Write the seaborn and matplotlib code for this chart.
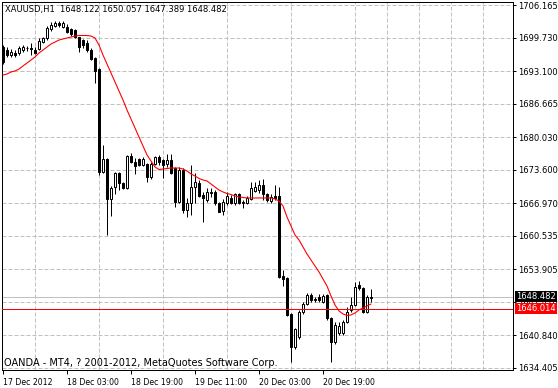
import numpy as np
import pandas as pd
import matplotlib
matplotlib.use("Agg")
import matplotlib.pyplot as plt
import seaborn as sns
from matplotlib.transforms import blended_transform_factory

# ---------------- data (XAUUSD H1) ----------------
opens = [1697.85, 1697.26, 1696.27, 1696.67, 1696.67, 1697.26, 1697.66, 1697.66, 1697.26, 1697.46,
         1698.84, 1699.64, 1701.42, 1702.01, 1702.60, 1701.81, 1701.81, 1701.42, 1701.22, 1699.83,
         1699.24, 1698.65, 1697.26, 1695.68, 1693.50, 1673.12, 1675.69, 1667.78, 1670.15, 1672.92,
         1670.95, 1669.96, 1676.29, 1675.10, 1675.69, 1674.51, 1674.70, 1672.13, 1674.70, 1676.09,
         1675.50, 1674.70, 1675.50, 1673.91, 1667.19, 1673.52, 1665.60, 1666.99, 1670.15, 1670.95,
         1668.57, 1667.58, 1668.97, 1669.17, 1666.99, 1665.41, 1666.99, 1667.98, 1666.99, 1668.77,
         1667.19, 1666.99, 1667.78, 1669.36, 1669.56, 1670.55, 1668.77, 1667.38, 1668.37, 1668.37,
         1652.55, 1652.15, 1645.03, 1638.50, 1640.48, 1645.42, 1647.00, 1648.79, 1647.80, 1648.39,
         1647.40, 1648.79, 1644.23, 1639.49, 1641.27, 1641.27, 1643.44, 1645.82, 1646.81, 1650.76,
         1650.17, 1645.42, 1648.122]
highs = [1698.25, 1697.85, 1697.46, 1697.26, 1698.05, 1698.25, 1698.05, 1698.65, 1697.85, 1699.64,
         1699.83, 1702.01, 1702.80, 1703.00, 1703.00, 1703.00, 1702.41, 1701.61, 1701.42, 1699.93,
         1699.44, 1699.24, 1697.66, 1695.88, 1693.70, 1678.46, 1675.89, 1670.35, 1673.12, 1673.12,
         1671.14, 1676.49, 1676.88, 1675.89, 1675.89, 1676.09, 1674.90, 1675.10, 1676.29, 1676.49,
         1675.69, 1676.68, 1676.68, 1674.11, 1674.11, 1673.91, 1667.98, 1674.51, 1672.92, 1671.54,
         1669.17, 1669.96, 1669.96, 1669.56, 1667.19, 1667.78, 1669.17, 1668.57, 1668.97, 1668.97,
         1667.58, 1668.37, 1671.14, 1671.14, 1671.54, 1671.74, 1668.97, 1668.77, 1670.55, 1670.15,
         1653.73, 1652.35, 1645.22, 1642.26, 1645.82, 1647.40, 1649.18, 1649.18, 1648.39, 1648.98,
         1648.98, 1648.98, 1644.43, 1643.44, 1643.44, 1643.84, 1646.41, 1648.39, 1651.36, 1651.56,
         1650.37, 1648.79, 1650.057]
lows = [1694.49, 1695.88, 1695.88, 1695.88, 1696.27, 1696.87, 1697.06, 1696.27, 1696.47, 1697.26,
        1698.65, 1699.24, 1701.02, 1701.81, 1701.81, 1701.61, 1700.62, 1700.03, 1699.64, 1696.87,
        1697.56, 1696.87, 1695.28, 1690.73, 1672.53, 1672.92, 1660.66, 1664.42, 1668.77, 1669.56,
        1669.76, 1669.76, 1674.90, 1672.73, 1674.31, 1674.31, 1671.14, 1671.74, 1674.51, 1674.51,
        1671.93, 1674.11, 1672.73, 1666.20, 1666.99, 1665.01, 1664.22, 1664.61, 1666.99, 1668.18,
        1663.23, 1667.19, 1668.18, 1666.59, 1665.21, 1664.61, 1666.59, 1666.79, 1666.59, 1666.79,
        1666.00, 1666.79, 1667.58, 1669.17, 1668.97, 1667.58, 1667.19, 1666.99, 1667.58, 1652.15,
        1650.56, 1644.63, 1635.53, 1638.10, 1640.08, 1645.03, 1646.81, 1647.40, 1647.40, 1647.40,
        1647.20, 1643.84, 1635.53, 1639.09, 1640.87, 1640.87, 1643.24, 1645.42, 1646.61, 1649.78,
        1645.22, 1645.22, 1647.389]
closes = [1694.89, 1696.27, 1696.87, 1696.37, 1697.66, 1697.85, 1697.56, 1697.46, 1696.67, 1699.04,
          1699.64, 1701.61, 1702.21, 1702.60, 1702.11, 1702.70, 1700.92, 1700.43, 1699.83, 1697.85,
          1698.25, 1697.26, 1695.48, 1693.11, 1673.12, 1675.69, 1667.78, 1669.96, 1672.92, 1670.95,
          1669.96, 1676.29, 1675.10, 1674.31, 1674.51, 1675.69, 1672.13, 1674.70, 1676.09, 1675.10,
          1674.51, 1675.50, 1672.92, 1667.19, 1673.52, 1665.60, 1666.99, 1670.15, 1671.14, 1668.37,
          1667.98, 1669.17, 1669.17, 1666.99, 1665.21, 1667.19, 1668.37, 1666.99, 1668.77, 1666.99,
          1666.99, 1667.98, 1669.96, 1670.15, 1670.55, 1668.77, 1667.58, 1668.18, 1667.98, 1652.35,
          1651.95, 1644.83, 1638.50, 1642.06, 1645.42, 1647.00, 1648.79, 1647.80, 1647.99, 1647.80,
          1648.59, 1644.23, 1639.49, 1642.85, 1642.65, 1643.44, 1645.42, 1646.81, 1650.37, 1650.17,
          1645.42, 1648.39, 1648.482]
ma = [1692.31, 1692.51, 1692.91, 1693.11, 1693.50, 1694.10, 1694.69, 1695.28, 1695.88, 1696.67,
      1697.26, 1697.85, 1698.45, 1698.84, 1699.24, 1699.44, 1699.64, 1699.83, 1700.03, 1700.13,
      1700.13, 1700.13, 1700.03, 1699.64, 1698.25, 1696.27, 1694.49, 1692.71, 1690.93, 1689.15,
      1687.37, 1685.39, 1683.61, 1681.83, 1680.05, 1678.27, 1676.49, 1675.30, 1674.11, 1673.62,
      1673.71, 1673.81, 1673.91, 1673.91, 1673.91, 1673.71, 1673.32, 1672.73, 1672.33, 1671.84,
      1671.54, 1671.34, 1670.75, 1670.15, 1669.56, 1669.17, 1668.87, 1668.67, 1668.37, 1668.18,
      1668.08, 1667.98, 1667.98, 1667.98, 1667.98, 1667.98, 1667.98, 1667.98, 1667.78, 1667.38,
      1666.40, 1664.22, 1662.44, 1660.66, 1659.67, 1658.28, 1656.90, 1655.71, 1654.52, 1653.34,
      1651.95, 1650.56, 1648.59, 1646.81, 1645.62, 1645.03, 1644.73, 1644.83, 1645.22, 1645.82,
      1646.21, 1646.61, 1647.00]

ytick_values = [1706.165, 1699.730, 1693.100, 1686.665, 1680.030, 1673.600,
                1666.970, 1660.535, 1653.905, 1647.470, 1640.840, 1634.405]
xtick_bars = [0, 16, 32, 48, 64, 80]
xtick_labels = ["17 Dec 2012", "18 Dec 03:00", "18 Dec 19:00",
                "19 Dec 11:00", "20 Dec 03:00", "20 Dec 19:00"]
bid_price = 1648.482
hline_price = 1646.014
header = "XAUUSD,H1  1648.122 1650.057 1647.389 1648.482"
footer = "OANDA - MT4, ? 2001-2012, MetaQuotes Software Corp."

# ---------------- figure ----------------
sns.set_style("white")
plt.rcParams['font.family'] = ['DejaVu Sans']

W, H = 558, 388
fig = plt.figure(figsize=(W / 100, H / 100), dpi=100)
fig.patch.set_facecolor("white")
L, R, T, B = 2, 513, 2, 370
ax = fig.add_axes([L / W, 1 - B / H, (R - L) / W, (B - T) / H])

df = pd.DataFrame({"bar": np.arange(len(opens)), "open": opens, "high": highs,
                   "low": lows, "close": closes, "ma": ma})
bull = df["close"] >= df["open"]
px = 0.72  # one pixel in points

# wicks
ax.vlines(df["bar"], df["low"], df["high"], color="black", lw=px, zorder=3)
# bodies
body_lo = np.minimum(df["open"], df["close"])
body_h = np.maximum(np.abs(df["close"] - df["open"]), 0.05)
ax.bar(df.loc[bull, "bar"], body_h[bull], bottom=body_lo[bull], width=0.5,
       facecolor="white", edgecolor="black", linewidth=px, zorder=4)
ax.bar(df.loc[~bull, "bar"], body_h[~bull], bottom=body_lo[~bull], width=0.5,
       facecolor="black", edgecolor="black", linewidth=px, zorder=4)

# moving average
sns.lineplot(data=df, x="bar", y="ma", color="#FF0000", lw=0.8, ax=ax, zorder=5)

# horizontal lines
ax.axhline(bid_price, color="#C0C0C0", lw=px, zorder=2)
ax.axhline(hline_price, color="#FF0000", lw=px, zorder=6)

ax.set_xlim(-0.25, 127.5)
ax.set_ylim(1633.94, 1706.76)
ax.set_xlabel("")
ax.set_ylabel("")

# y axis on right
ax.yaxis.tick_right()
ax.set_yticks(ytick_values)
ax.set_yticklabels([f"{v:.3f}" for v in ytick_values])
ax.tick_params(axis="y", which="major", direction="out", length=2.5, width=px,
               labelsize=6, pad=1.5, colors="black", right=True, left=False)

# x axis
ax.set_xticks(xtick_bars)
ax.set_xticklabels(xtick_labels, ha="left")
ax.set_xticks(np.arange(8, 128, 8), minor=True)
ax.tick_params(axis="x", which="major", direction="out", length=3, width=px,
               labelsize=5.6, pad=2.5, colors="black", bottom=True)
ax.tick_params(axis="x", which="minor", length=0)

# grid
grid_kw = dict(color="#C0C0C0", linestyle=(0, (4, 2)), linewidth=px)
ax.grid(False)
ax.grid(True, axis="x", which="minor", **grid_kw)
ax.grid(True, axis="y", which="major", **grid_kw)
ax.set_axisbelow(True)

for s in ax.spines.values():
    s.set_visible(True)
    s.set_color("black")
    s.set_linewidth(px)

# price boxes on right scale
trans = blended_transform_factory(ax.transAxes, ax.transData)
ax.text(1 + 3 / (R - L), bid_price, f"{bid_price:.3f}", transform=trans, ha="left",
        va="center", fontsize=6, color="white", clip_on=False, zorder=10,
        bbox=dict(boxstyle="square,pad=0.12", fc="black", ec="none"))
ax.text(1 + 3 / (R - L), hline_price, f"{hline_price:.3f}", transform=trans, ha="left",
        va="center", fontsize=6, color="white", clip_on=False, zorder=10,
        bbox=dict(boxstyle="square,pad=0.12", fc="#FF0000", ec="none"))

fig.text(5 / W, 1 - 5 / H, header, ha="left", va="top", fontsize=6, color="black")
fig.text(4 / W, 1 - 366 / H, footer, ha="left", va="baseline", fontsize=7, color="black")

fig.savefig("out.png", dpi=100, facecolor="white")
